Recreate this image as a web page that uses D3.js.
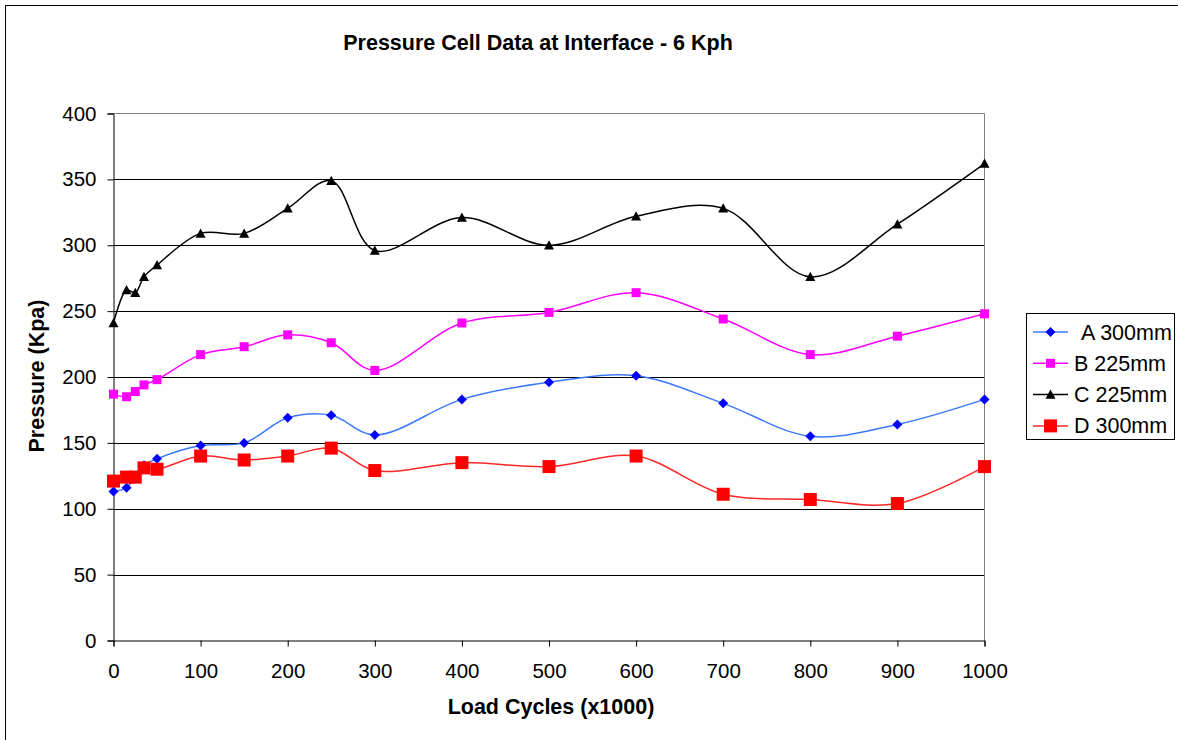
<!DOCTYPE html>
<html>
<head>
<meta charset="utf-8">
<script src="https://cdn.jsdelivr.net/npm/d3@7"></script>
<style>
  html, body { margin: 0; padding: 0; background: #fff; }
  svg { display: block; font-family: "Liberation Sans", Arial, sans-serif; }
</style>
</head>
<body>
<svg id="chart" width="1178" height="740"></svg>
<script>
// Load cycles (x1000) at which the pressure cells were read
const loadCycles = [0, 15, 25, 35, 50, 100, 150, 200, 250, 300, 400, 500, 600, 700, 800, 900, 1000];

// Pressure readings (Kpa) per cell
const cellA = [113, 116, 125, 133, 138, 148, 150, 169, 171, 156, 183, 196, 201, 180, 155, 164, 183];
const cellB = [187, 185, 189, 194, 198, 217, 223, 232, 226, 205, 241, 249, 264, 244, 217, 231, 248];
const cellC = [241, 266, 264, 276, 285, 309, 309, 328, 349, 296, 321, 300, 322, 328, 276, 316, 362];
const cellD = [121, 124, 124, 131, 130, 140, 137, 140, 146, 129, 135, 132, 140, 111, 107, 104, 132];

const seriesNames = ["A 300mm", "B 225mm", "C 225mm", "D 300mm"];
const xTicks = [0, 100, 200, 300, 400, 500, 600, 700, 800, 900, 1000];
const yTicks = [0, 50, 100, 150, 200, 250, 300, 350, 400];

const series = [
  { name: seriesNames[0], values: cellA, line: "#3b78ff", fill: "#0000ff", shape: "diamond", size: 10 },
  { name: seriesNames[1], values: cellB, line: "#ff00ff", fill: "#ff00ff", shape: "square", size: 9 },
  { name: seriesNames[2], values: cellC, line: "#000000", fill: "#000000", shape: "triangle", size: 10 },
  { name: seriesNames[3], values: cellD, line: "#ff2626", fill: "#ff0000", shape: "square", size: 13 }
];

const svg = d3.select("#chart");
const plot = { left: 113.5, right: 984.5, top: 113.5, bottom: 640.5 };
const tickFont = 20.5;
const labelFont = 21.5;

const x = d3.scaleLinear().domain([0, 1000]).range([plot.left, plot.right]);
const y = d3.scaleLinear().domain([0, 400]).range([plot.bottom, plot.top]);

// outer chart frame
svg.append("rect")
  .attr("x", 5.5).attr("y", 5.5)
  .attr("width", 1200).attr("height", 800)
  .attr("fill", "#fff").attr("stroke", "#000").attr("stroke-width", 1);

// title
svg.append("text")
  .attr("x", 538).attr("y", 50)
  .attr("text-anchor", "middle")
  .attr("font-size", labelFont).attr("font-weight", "bold")
  .text("Pressure Cell Data at Interface - 6 Kph");

// horizontal gridlines
svg.append("g")
  .selectAll("line")
  .data(yTicks.filter(d => d > 0 && d < 400))
  .join("line")
  .attr("x1", plot.left).attr("x2", plot.right)
  .attr("y1", d => Math.round(y(d)) + 0.5).attr("y2", d => Math.round(y(d)) + 0.5)
  .attr("stroke", "#000").attr("stroke-width", 1);

// plot area border (top and right)
svg.append("path")
  .attr("d", `M${plot.left},${plot.top}H${plot.right}V${plot.bottom}`)
  .attr("fill", "none").attr("stroke", "#808080").attr("stroke-width", 1);

// y axis
const yAxis = d3.axisLeft(y).tickValues(yTicks).tickSize(6).tickPadding(11).tickFormat(d3.format("d"));
const gy = svg.append("g").attr("transform", `translate(${plot.left},0)`).call(yAxis);
gy.select(".domain").attr("stroke", "#000");
gy.selectAll(".tick line").attr("stroke", "#000");
gy.selectAll(".tick text").attr("font-size", tickFont).attr("fill", "#000")
  .attr("font-family", "Liberation Sans, Arial, sans-serif");

// x axis
const xAxis = d3.axisBottom(x).tickValues(xTicks).tickSize(6).tickPadding(17).tickFormat(d3.format("d"));
const gx = svg.append("g").attr("transform", `translate(0,${plot.bottom})`).call(xAxis);
gx.select(".domain").attr("stroke", "#000");
gx.selectAll(".tick line").attr("stroke", "#000");
gx.selectAll(".tick text").attr("font-size", tickFont).attr("fill", "#000")
  .attr("font-family", "Liberation Sans, Arial, sans-serif");

// axis titles
svg.append("text")
  .attr("x", 551).attr("y", 714)
  .attr("text-anchor", "middle")
  .attr("font-size", labelFont).attr("font-weight", "bold")
  .text("Load Cycles (x1000)");

svg.append("text")
  .attr("transform", "translate(44,376) rotate(-90)")
  .attr("text-anchor", "middle")
  .attr("font-size", labelFont).attr("font-weight", "bold")
  .text("Pressure (Kpa)");

// marker drawing
function markerPath(shape, s) {
  const h = s / 2;
  if (shape === "diamond") return `M0,${-h}L${h},0L0,${h}L${-h},0Z`;
  if (shape === "triangle") return `M0,${-h}L${h},${h * 0.85}L${-h},${h * 0.85}Z`;
  return `M${-h},${-h}H${h}V${h}H${-h}Z`;
}

const line = d3.line()
  .x((d, i) => x(loadCycles[i]))
  .y(d => y(d))
  .curve(d3.curveCatmullRom.alpha(0.5));

const gSeries = svg.append("g");
series.forEach(s => {
  gSeries.append("path")
    .attr("d", line(s.values))
    .attr("fill", "none")
    .attr("stroke", s.line)
    .attr("stroke-width", 1.5);
});
series.forEach(s => {
  gSeries.append("g")
    .selectAll("path")
    .data(s.values)
    .join("path")
    .attr("transform", (d, i) => `translate(${x(loadCycles[i])},${y(d)})`)
    .attr("d", markerPath(s.shape, s.size))
    .attr("fill", s.fill);
});

// legend
const legend = svg.append("g");
legend.append("rect")
  .attr("x", 1026.5).attr("y", 313.5)
  .attr("width", 148).attr("height", 126)
  .attr("fill", "#fff").attr("stroke", "#000").attr("stroke-width", 1);

series.forEach((s, i) => {
  const ly = 332 + i * 31.3;
  legend.append("line")
    .attr("x1", 1033).attr("x2", 1068)
    .attr("y1", ly).attr("y2", ly)
    .attr("stroke", s.line).attr("stroke-width", 1.5);
  legend.append("path")
    .attr("transform", `translate(1050.5,${ly})`)
    .attr("d", markerPath(s.shape, s.size))
    .attr("fill", s.fill);
  legend.append("text")
    .attr("x", i === 0 ? 1081 : 1074).attr("y", ly + 7.5)
    .attr("font-size", labelFont)
    .text(s.name);
});
</script>
</body>
</html>
